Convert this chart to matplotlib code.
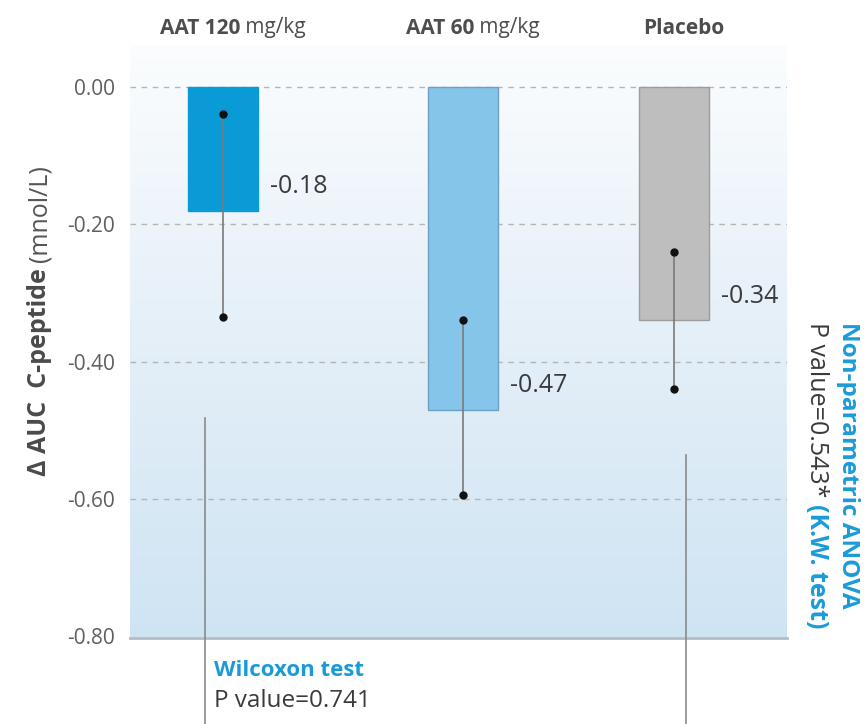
import matplotlib
matplotlib.use("Agg")
import matplotlib.pyplot as plt
import numpy as np
from matplotlib import font_manager
from matplotlib.colors import LinearSegmentedColormap

plt.rcParams["font.family"] = ["Open Sans", "DejaVu Sans"]

# ---- data -------------------------------------------------------------
groups = ["AAT 120", "AAT 60", "Placebo"]
group_units = [" mg/kg", " mg/kg", ""]
x_pos = [0.0, 1.0, 1.88]
means = [-0.18, -0.47, -0.34]
range_hi = [-0.04, -0.34, -0.24]
range_lo = [-0.335, -0.595, -0.44]
bar_colors = ["#0a9bd7", "#86c5ea", "#bebebe"]
edge_colors = ["#0a9bd7", "#6f9fc2", "#9c9c9c"]
yticks = [0.0, -0.2, -0.4, -0.6, -0.8]
ytick_labels = ["0.00", "-0.20", "-0.40", "-0.60", "-0.80"]

BLUE = "#1a9bd8"
DARK = "#3a3a3a"
W, H = 866, 724

try:
    font_manager.findfont("Liberation Sans Narrow", fallback_to_default=False)
    NARROW = ["Liberation Sans Narrow", "DejaVu Sans"]
    HEAD_SIZE = 17
except Exception:
    NARROW = ["Open Sans", "DejaVu Sans"]
    HEAD_SIZE = 15

fig = plt.figure(figsize=(W / 100, H / 100), dpi=100)
ax = fig.add_axes([130 / W, 86 / H, 657 / W, (638 - 45) / H])
xlim = (-0.3875, 2.35)
ylim = (-0.8026, 0.0612)
ax.set_xlim(*xlim)
ax.set_ylim(*ylim)

# soft vertical gradient behind the plot
cmap = LinearSegmentedColormap.from_list("bg", ["#cfe4f3", "#e4eff8", "#fbfdfe"])
grad = np.linspace(0, 1, 256).reshape(-1, 1)
ax.imshow(grad, extent=[xlim[0], xlim[1], ylim[0], ylim[1]], origin="lower",
          aspect="auto", cmap=cmap, zorder=0)

for y in yticks[:-1]:
    ax.axhline(y, color="#b5b5b5", lw=1, ls=(0, (4, 4)), zorder=1)

ax.bar(x_pos, means, width=0.29, color=bar_colors, edgecolor=edge_colors,
       linewidth=1, zorder=2)

for x, lo, hi in zip(x_pos, range_lo, range_hi):
    ax.plot([x, x], [lo, hi], color="#7a7a7a", lw=1.2, zorder=3)
    ax.plot([x, x], [lo, hi], "o", ms=5, color="#111111", zorder=4)

for x, m in zip(x_pos, means):
    ax.annotate(f"{m:.2f}", xy=(x + 0.145, m + 0.035), xytext=(9, 0),
                textcoords="offset points", ha="left", va="center",
                fontsize=18, color=DARK)

# connector lines running down to the test captions
ax.plot([-0.075, -0.075], [-0.482, -0.93], color="#8a8a8a", lw=1.2,
        clip_on=False, zorder=3)
ax.plot([1.93, 1.93], [-0.536, -0.93], color="#8a8a8a", lw=1.2,
        clip_on=False, zorder=3)

ax.set_xticks([])
ax.set_yticks(yticks, ytick_labels)
ax.tick_params(axis="y", length=0, pad=11, labelsize=15, labelcolor="#5f5f5f")
for s in ["top", "right", "left"]:
    ax.spines[s].set_visible(False)
ax.spines["bottom"].set_color("#b3bdc7")
ax.spines["bottom"].set_linewidth(2)

fig.canvas.draw()
renderer = fig.canvas.get_renderer()

# group headers: bold name followed by regular unit
for x, name, unit in zip(x_pos, groups, group_units):
    xd = ax.transData.transform((x, 0))[0]
    t1 = fig.text(0, 1 - 28 / H, name, fontsize=HEAD_SIZE, fontweight="bold",
                  family=NARROW, color="#4d4d4d", va="center", ha="left")
    w1 = t1.get_window_extent(renderer).width
    w2 = 0
    t2 = None
    if unit:
        t2 = fig.text(0, 1 - 28 / H, unit, fontsize=HEAD_SIZE, family=NARROW,
                      color="#4d4d4d", va="center", ha="left")
        w2 = t2.get_window_extent(renderer).width
    x0 = xd - (w1 + w2) / 2 + 10
    t1.set_x(x0 / W)
    if t2 is not None:
        t2.set_x((x0 + w1) / W)

# y axis label: bold quantity + regular unit, reading upwards
yl1 = fig.text(40 / W, 1 - 476 / H, "\u0394 AUC  C-peptide", rotation=90,
               fontsize=18, fontweight="bold", color="#4a4a4a",
               ha="center", va="bottom")
e = yl1.get_window_extent(renderer)
fig.text(40 / W, (e.y1 + 6) / H, "(mnol/L)", rotation=90, fontsize=18,
         color="#555555", ha="center", va="bottom")

# Kruskal-Wallis caption on the right, reading downwards
fig.text(848 / W, 1 - 322 / H, "Non-parametric ANOVA", rotation=-90,
         fontsize=17.5, fontweight="bold", color=BLUE, ha="center", va="top")
p1 = fig.text(816 / W, 1 - 322 / H, "P value=0.543*", rotation=-90,
              fontsize=18, color=DARK, ha="center", va="top")
e = p1.get_window_extent(renderer)
fig.text(816 / W, (e.y0 - 7) / H, "(K.W. test)", rotation=-90,
         fontsize=18, fontweight="bold", color=BLUE, ha="center", va="top")

# Wilcoxon caption under the plot
fig.text(214 / W, 1 - 670 / H, "Wilcoxon test", fontsize=16,
         fontweight="bold", color=BLUE, ha="left", va="center")
fig.text(214 / W, 1 - 701 / H, "P value=0.741", fontsize=17.5,
         color=DARK, ha="left", va="center")

fig.savefig("out.png", dpi=100)
